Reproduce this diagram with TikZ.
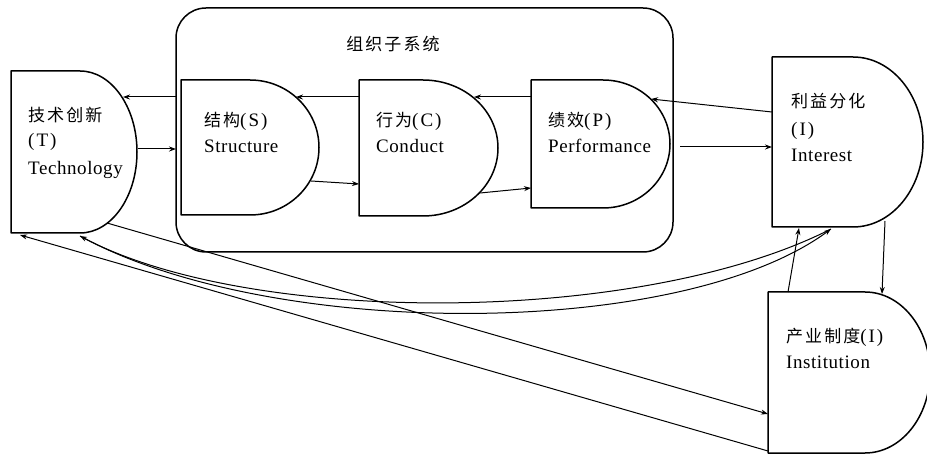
\documentclass[tikz,border=0pt]{standalone}
\usepackage{fontspec}
\setmainfont[LetterSpace=3]{Liberation Serif}
\newfontfamily\cjk[LetterSpace=12]{Noto Sans CJK SC}
\usetikzlibrary{arrows.meta,fit}
\newcommand\zh[1]{{\fontsize{17}{17}\selectfont\cjk #1}}
\newcommand\pz[1]{(\kern2pt#1\kern2pt)}
\newcommand\Dbox[6]{%
  \draw[dbox] (#2,#3) -- (#4,#3) arc[start angle=90,end angle=-90,x radius=#6pt,y radius={(#5-#3)/2*1pt}] -- (#2,#5) -- cycle;
  \node[fit={(#2,#3) (#4+#6,#5)}, inner sep=0] (#1) {};
}
\begin{document}
\begin{tikzpicture}[x=1pt,y=-1pt,
  dbox/.style={line width=1.5pt, line join=round},
  conn/.style={line width=1pt, -{Stealth[length=7pt,width=5pt]}},
  lab/.style={anchor=base west, inner sep=0, font=\fontsize{19}{19}\selectfont}]
\useasboundingbox (0,0) rectangle (927,454);

% organisation subsystem
\node[dbox, draw, rounded corners=30pt, fit={(176,8) (673,252)}, inner sep=0] (O) {};
\node[anchor=base, inner sep=0] (title) at (393,51) {\zh{组织子系统}};

% D-shaped boxes
\Dbox{T}{11}{71}{80}{233}{57}
\Dbox{S}{181}{80}{250}{215}{69}
\Dbox{C}{359}{80}{423}{216}{75}
\Dbox{P}{531}{80}{603}{208}{67}
\Dbox{I}{772}{57}{853}{227}{70}
\Dbox{N}{768}{292}{865}{453}{65}

% labels
\node[lab] (t1) at (28,122) {\zh{技术创新}};
\node[lab] (t2) at (28,147) {\pz{T}};
\node[lab] (t3) at (28,175) {Technology};
\node[lab] (s1) at (204,127) {\zh{结构}\pz{S}};
\node[lab] (s2) at (204,153) {Structure};
\node[lab] (c1) at (376,127) {\zh{行为}\pz{C}};
\node[lab] (c2) at (376,153) {Conduct};
\node[lab] (p1) at (548,127) {\zh{绩效}\pz{P}};
\node[lab] (p2) at (548,153) {Performance};
\node[lab] (i1) at (791,108) {\zh{利益分化}};
\node[lab] (i2) at (791,136) {\pz{I}};
\node[lab] (i3) at (791,162) {Interest};
\node[lab] (n1) at (786,343) {\zh{产业制度}\pz{I}};
\node[lab] (n2) at (786,369) {Institution};

% connector end points
\coordinate (O-w1) at (176,97);
\coordinate (O-w2) at (176,149);
\coordinate (T-e1) at (123,97);
\coordinate (T-e2) at (138,149);
\coordinate (T-se) at (107,223);
\coordinate (T-s1) at (20,235);
\coordinate (T-s2) at (80,236);
\coordinate (S-e1) at (296,97);
\coordinate (S-e2) at (311,181);
\coordinate (C-w1) at (359,97);
\coordinate (C-w2) at (359,184);
\coordinate (C-e1) at (474,97);
\coordinate (C-e2) at (480,193);
\coordinate (P-w1) at (531,97);
\coordinate (P-w2) at (531,188);
\coordinate (P-e1) at (651,99);
\coordinate (P-e2) at (680,147);
\coordinate (I-w1) at (772,112);
\coordinate (I-w2) at (772,147);
\coordinate (I-s1) at (885,221);
\coordinate (I-s2) at (799,228);
\coordinate (I-s3) at (831,229);
\coordinate (N-n1) at (882,294);
\coordinate (N-n2) at (788,292);
\coordinate (N-w1) at (768,414);
\coordinate (N-sw) at (768,451);

% connectors
\draw[conn] (O-w1) -- (T-e1);
\draw[conn] (T-e2) -- (O-w2);
\draw[conn] (C-w1) -- (S-e1);
\draw[conn] (P-w1) -- (C-e1);
\draw[conn] (S-e2) -- (C-w2);
\draw[conn] (C-e2) -- (P-w2);
\draw[conn] (I-w1) -- (P-e1);
\draw[conn] (P-e2) -- (I-w2);
\draw[conn] (I-s1) -- (N-n1);
\draw[conn] (N-n2) -- (I-s2);
\draw[conn] (T-se) -- (N-w1);
\draw[conn] (N-sw) -- (T-s1);
\draw[conn] (I-s3) .. controls (640,326) and (250,326) .. (T-s2);
\draw[conn] (T-s2) .. controls (270,340) and (680,340) .. (I-s3);
\end{tikzpicture}
\end{document}
